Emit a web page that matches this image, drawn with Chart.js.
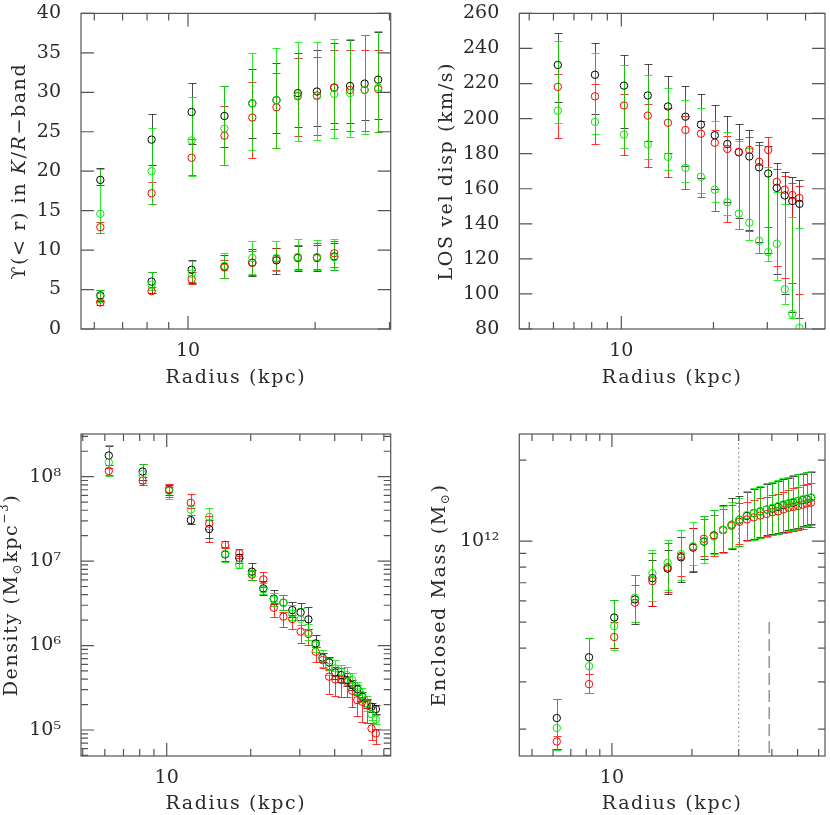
<!DOCTYPE html>
<html>
<head>
<meta charset="utf-8">
<script src="https://cdn.jsdelivr.net/npm/chart.js@4.4.0/dist/chart.umd.min.js"></script>
<style>
  body { margin: 0; background: #fff; width: 830px; height: 815px; overflow: hidden; position: relative; }
  canvas { position: absolute; }
</style>
</head>
<body>
<canvas id="ups" width="415" height="410" style="left:0;top:-10px"></canvas>
<canvas id="sigma" width="415" height="410" style="left:415px;top:-10px"></canvas>
<canvas id="dens" width="415" height="405" style="left:0;top:410px"></canvas>
<canvas id="mass" width="415" height="405" style="left:415px;top:410px"></canvas>
<script>
// radii (kpc)
const radiusUpper = [6.2, 8.2, 10.2, 12.2, 14.2, 16.2, 18.2, 20.2, 22.2, 24.2, 26.2, 28.2];
const radiusLower = [6.2, 8.2, 10.2, 12.2, 14.2, 16.2, 18.2, 20.2, 22.2];
const radiusSigma = [6.2, 8.2, 10.2, 12.2, 14.2, 16.2, 18.2, 20.2, 22.2, 24.2, 26.2, 28.2, 30.2, 32.2, 34.2, 36.2, 38.2];
const radiusProfile = [6.2, 8.2, 10.2, 12.2, 14.2, 16.2, 18.2, 20.2, 22.2, 24.2, 26.2, 28.2, 30.2,
  32.2, 34.2, 36.2, 38.2, 40.2, 42.2, 44.2, 46.2, 48.2, 50.2, 52.2, 54.2, 56.2];

// mass-to-light, upper group
const upsBlack = [18.9, 24.0, 27.5, 27.0, 28.6, 29.0, 29.9, 30.1, 30.6, 30.8, 31.1, 31.6];
const upsBlackHi = [20.4, 27.2, 31.2, 30.8, 33.0, 33.7, 35.0, 35.4, 36.2, 36.6, 37.2, 37.7];
const upsBlackLo = [18.2, 20.8, 23.4, 23.1, 24.2, 24.8, 25.6, 25.7, 26.1, 26.1, 26.5, 26.6];
const upsRed = [12.9, 17.2, 21.7, 24.5, 26.8, 28.1, 29.5, 29.6, 30.6, 30.3, 30.3, 30.4];
const upsRedHi = [13.6, 18.6, 24.1, 28.3, 31.3, 32.5, 34.3, 34.5, 35.3, 35.3, 35.3, 35.3];
const upsRedLo = [12.2, 15.9, 19.5, 20.8, 21.7, 23.0, 24.5, 24.6, 25.3, 25.1, 25.1, 25.0];
const upsGreen = [14.6, 20.0, 23.9, 25.4, 28.6, 29.0, 29.6, 29.5, 29.8, 29.9, 30.3, 30.6];
const upsGreenHi = [20.3, 25.5, 29.4, 30.8, 35.0, 35.6, 36.4, 36.4, 36.7, 36.7, 37.3, 37.8];
const upsGreenLo = [12.2, 15.9, 19.4, 20.8, 22.7, 23.0, 23.8, 23.9, 24.2, 24.3, 24.7, 25.0];
// mass-to-light, lower group
const lowBlack = [4.27, 6.0, 7.5, 7.9, 8.4, 8.7, 9.0, 9.0, 9.2];
const lowBlackHi = [4.9, 7.2, 8.8, 9.4, 10.1, 10.3, 10.5, 10.7, 10.9];
const lowBlackLo = [3.6, 4.5, 5.8, 6.5, 6.7, 7.0, 7.3, 7.4, 7.5];
const lowRed = [3.35, 4.8, 6.3, 7.8, 8.4, 8.9, 9.1, 9.1, 9.6];
const lowRedHi = [3.7, 5.3, 7.2, 8.8, 9.9, 10.3, 10.7, 10.9, 11.1];
const lowRedLo = [3.0, 4.5, 5.7, 6.5, 6.9, 7.5, 7.6, 7.6, 7.9];
const lowGreen = [4.1, 5.6, 7.0, 8.0, 9.0, 9.0, 9.1, 9.1, 9.1];
const lowGreenHi = [5.0, 7.2, 8.6, 9.6, 11.1, 11.2, 11.4, 11.3, 11.4];
const lowGreenLo = [3.4, 4.9, 5.9, 6.5, 7.0, 7.3, 7.5, 7.5, 7.5];

// LOS velocity dispersion (km/s)
const sigBlack = [230.6, 225.0, 218.8, 213.2, 206.9, 201.1, 196.6, 190.5, 185.5, 180.8, 178.4, 172.2, 168.7, 160.5, 156.2, 153.0, 151.4];
const sigBlackHi = [248.6, 243.0, 236.5, 230.9, 224.4, 218.6, 213.8, 207.6, 201.5, 197.0, 193.7, 186.8, 184.5, 174.5, 169.8, 166.6, 164.8];
const sigBlackLo = [209.5, 202.6, 194.6, 187.3, 180.4, 172.8, 166.3, 159.8, 152.3, 143.4, 136.5, 129.4, 123.4, 111.3, 100.1, 89.9, 86.0];
const sigRed = [218.1, 212.7, 207.5, 201.7, 197.6, 193.5, 191.4, 186.2, 182.7, 181.0, 182.1, 175.4, 182.1, 163.9, 159.4, 156.4, 154.7];
const sigRedHi = [225.5, 219.8, 213.8, 208.6, 206.3, 201.7, 198.9, 193.7, 190.0, 188.6, 189.6, 184.9, 189.6, 171.3, 167.2, 163.5, 161.6];
const sigRedLo = [189.0, 185.3, 179.1, 172.2, 166.8, 160.1, 155.1, 147.3, 141.1, 136.8, 135.9, 123.4, 138.3, 115.8, 109.1, 106.3, 100.1];
const sigGreen = [204.5, 198.1, 190.9, 185.3, 178.2, 171.9, 166.8, 159.4, 152.3, 145.8, 140.6, 130.3, 123.8, 128.6, 102.7, 88.6, 80.6];
const sigGreenHi = [244.2, 237.6, 230.6, 225.0, 217.5, 210.8, 206.0, 198.5, 192.4, 187.3, 183.0, 173.7, 172.2, 158.3, 151.2, 143.7, 137.4];
const sigGreenLo = [197.4, 191.1, 183.4, 176.9, 170.9, 163.9, 157.7, 152.7, 144.9, 136.8, 130.5, 123.4, 118.8, 108.0, 94.2, 86.5, 70.0];

// density (Msun kpc^-3)
const densBlack = [1.78e8, 1.15e8, 6.9e7, 3.05e7, 2.4e7, 1.2e7, 1.09e7, 7.5e6, 4.75e6, 3.59e6, 3.22e6, 2.63e6, 2.47e6,
  2.04e6, 1.06e6, 7.2e5, 6.3e5, 4.8e5, 4.47e5, 3.9e5, 3.4e5, 3.03e5, 2.48e5, 2.07e5, 1.88e5, 1.77e5];
const densBlackHi = [2.32e8, 1.41e8, 7.9e7, 3.55e7, 3.05e7, 1.45e7, 1.22e7, 9.5e6, 5.75e6, 4.54e6, 4.0e6, 3.31e6, 3.16e6,
  2.83e6, 1.33e6, 8.1e5, 7.4e5, 5.6e5, 5.36e5, 4.7e5, 3.9e5, 3.4e5, 2.84e5, 2.34e5, 2.1e5, 1.97e5];
const densBlackLo = [1.38e8, 9.1e7, 6.0e7, 2.73e7, 1.9e7, 1.0e7, 9.5e6, 6.0e6, 4.0e6, 3.08e6, 2.63e6, 2.2e6, 2.0e6,
  1.58e6, 9.5e5, 6.3e5, 5.25e5, 4.07e5, 3.72e5, 3.31e5, 2.97e5, 2.69e5, 2.19e5, 1.82e5, 1.64e5, 1.54e5];
const densRed = [1.17e8, 8.96e7, 7.08e7, 4.9e7, 2.78e7, 1.56e7, 1.24e7, 6.9e6, 6.08e6, 2.8e6, 2.2e6, 2.06e6, 1.46e6,
  1.37e6, 8.45e5, 6.73e5, 4.28e5, 3.97e5, 3.9e5, 3.72e5, 2.92e5, 2.26e5, 2.16e5, 1.97e5, 1.04e5, 9.1e4];
const densRedHi = [1.28e8, 1.0e8, 8.1e7, 6.2e7, 3.4e7, 1.71e7, 1.4e7, 7.9e6, 7.5e6, 3.21e6, 2.51e6, 2.29e6, 1.75e6,
  1.58e6, 9.7e5, 8.2e5, 5.1e5, 4.47e5, 4.47e5, 4.27e5, 3.39e5, 2.59e5, 2.48e5, 2.26e5, 1.2e5, 1.04e5];
const densRedLo = [1.05e8, 7.9e7, 5.75e7, 4.2e7, 1.68e7, 1.44e7, 1.09e7, 6.0e6, 4.9e6, 2.16e6, 1.67e6, 1.58e6, 1.06e6,
  1.01e6, 6.4e5, 5.36e5, 2.64e5, 2.52e5, 2.48e5, 2.43e5, 1.88e5, 1.46e5, 1.25e5, 1.2e5, 7.6e4, 6.9e4];
const densGreen = [1.48e8, 1.07e8, 6.8e7, 4.07e7, 3.34e7, 1.22e7, 9.0e6, 7.1e6, 4.62e6, 3.52e6, 3.21e6, 2.4e6, 2.06e6,
  1.42e6, 1.01e6, 7.05e5, 5.6e5, 5.36e5, 4.9e5, 4.47e5, 3.9e5, 3.19e5, 2.59e5, 2.07e5, 1.54e5, 1.33e5];
const densGreenHi = [2.38e8, 1.4e8, 7.6e7, 4.57e7, 4.2e7, 1.47e7, 9.9e6, 7.9e6, 5.46e6, 4.17e6, 3.93e6, 3.02e6, 2.75e6,
  1.78e6, 1.16e6, 8.85e5, 7.05e5, 6.73e5, 5.87e5, 5.6e5, 4.76e5, 3.72e5, 3.1e5, 2.51e5, 1.88e5, 1.5e5];
const densGreenLo = [1.02e8, 8.5e7, 5.5e7, 3.5e7, 2.43e7, 9.7e6, 8.26e6, 5.9e6, 4.04e6, 2.95e6, 2.63e6, 2.0e6, 1.75e6,
  1.17e6, 8.45e5, 5.6e5, 4.47e5, 4.37e5, 4.07e5, 3.72e5, 3.16e5, 2.69e5, 2.14e5, 1.7e5, 1.31e5, 1.17e5];

// enclosed mass (Msun)
const massBlack = [2.2e11, 3.7e11, 5.2e11, 6.07e11, 7.28e11, 7.9e11, 8.7e11, 9.46e11, 9.95e11, 1.05e12, 1.1e12, 1.15e12, 1.2e12,
  1.24e12, 1.27e12, 1.29e12, 1.31e12, 1.32e12, 1.34e12, 1.36e12, 1.38e12, 1.39e12, 1.41e12, 1.42e12, 1.43e12, 1.45e12];
const massBlackHi = [2.6e11, 4.38e11, 6.04e11, 7.48e11, 8.5e11, 9.3e11, 1.04e12, 1.12e12, 1.24e12, 1.3e12, 1.36e12, 1.44e12, 1.47e12,
  1.52e12, 1.56e12, 1.59e12, 1.63e12, 1.65e12, 1.67e12, 1.7e12, 1.72e12, 1.75e12, 1.77e12, 1.78e12, 1.8e12, 1.81e12];
const massBlackLo = [1.69e11, 2.72e11, 4.02e11, 4.92e11, 5.75e11, 6.38e11, 7.06e11, 7.67e11, 8.55e11, 9.0e11, 9.1e11, 9.33e11, 9.6e11,
  1.01e12, 1.02e12, 1.04e12, 1.05e12, 1.06e12, 1.07e12, 1.08e12, 1.1e12, 1.11e12, 1.12e12, 1.14e12, 1.15e12, 1.16e12];
const massRed = [1.8e11, 2.94e11, 4.4e11, 5.9e11, 7.1e11, 8.0e11, 8.8e11, 9.5e11, 1.02e12, 1.05e12, 1.1e12, 1.14e12, 1.18e12,
  1.205e12, 1.225e12, 1.245e12, 1.26e12, 1.28e12, 1.29e12, 1.31e12, 1.33e12, 1.34e12, 1.35e12, 1.365e12, 1.38e12, 1.39e12];
const massRedHi = [1.88e11, 3.2e11, 5.0e11, 6.87e11, 9.0e11, 9.8e11, 1.04e12, 1.12e12, 1.21e12, 1.25e12, 1.32e12, 1.36e12, 1.38e12,
  1.4e12, 1.42e12, 1.44e12, 1.46e12, 1.48e12, 1.5e12, 1.52e12, 1.55e12, 1.57e12, 1.59e12, 1.61e12, 1.63e12, 1.64e12];
const massRedLo = [1.69e11, 2.73e11, 3.99e11, 5.0e11, 5.75e11, 6.46e11, 7.41e11, 7.76e11, 8.79e11, 8.79e11, 9.12e11, 9.44e11, 9.77e11,
  1.01e12, 1.02e12, 1.03e12, 1.045e12, 1.05e12, 1.06e12, 1.07e12, 1.08e12, 1.09e12, 1.1e12, 1.11e12, 1.125e12, 1.13e12];
const massGreen = [2.02e11, 3.43e11, 4.83e11, 6.16e11, 7.6e11, 8.3e11, 8.95e11, 9.57e11, 1.0e12, 1.04e12, 1.1e12, 1.15e12, 1.2e12,
  1.25e12, 1.27e12, 1.29e12, 1.31e12, 1.33e12, 1.35e12, 1.37e12, 1.38e12, 1.4e12, 1.41e12, 1.43e12, 1.44e12, 1.45e12];
const massGreenHi = [2.6e11, 4.38e11, 6.04e11, 7.48e11, 9.3e11, 1.01e12, 1.1e12, 1.18e12, 1.24e12, 1.3e12, 1.35e12, 1.4e12, 1.45e12,
  1.53e12, 1.57e12, 1.6e12, 1.64e12, 1.66e12, 1.68e12, 1.71e12, 1.73e12, 1.76e12, 1.78e12, 1.79e12, 1.81e12, 1.82e12];
const massGreenLo = [1.68e11, 2.72e11, 3.94e11, 5.0e11, 6.0e11, 6.58e11, 7.16e11, 8.15e11, 8.3e11, 8.95e11, 9.0e11, 9.4e11, 9.6e11,
  1.0e12, 1.01e12, 1.03e12, 1.04e12, 1.05e12, 1.06e12, 1.07e12, 1.09e12, 1.1e12, 1.11e12, 1.13e12, 1.14e12, 1.15e12];
const massDotted = 30;       // kpc, dotted vertical line
const massDashed = 39.1;     // kpc, dashed vertical line
const massDashedTop = 5.0e11;

// tick values
const xTicksUps = [6, 7, 8, 9, 10, 20, 30];
const xTicksSigma = [5, 6, 7, 8, 9, 10, 20, 30, 40];
const xTicksProfile = [5, 6, 7, 8, 9, 10, 20, 30, 40, 50, 60];
const yTicksUps = [0, 5, 10, 15, 20, 25, 30, 35, 40];
const yTicksSigma = [80, 100, 120, 140, 160, 180, 200, 220, 240, 260];
const densDecades = [1e4, 1e5, 1e6, 1e7, 1e8];
const massDecades = [1e11, 1e12];

const TEXT = '#2a2a2a';
const AXIS = '#555';
const FONT = '"DejaVu Serif", serif';
const SIZE = 19;
const SPACING = '1.6px';
Chart.defaults.font.family = FONT;
Chart.defaults.font.size = SIZE;
Chart.defaults.color = TEXT;

const COLORS = {
  black: ['#000', 'rgba(0,0,0,0.7)'],
  red: ['#ff0000', 'rgba(255,0,0,0.8)'],
  green: ['#00ee00', 'rgba(0,230,0,0.8)']
};

const SUP = {'0': '⁰', '1': '¹', '2': '²', '3': '³', '4': '⁴', '5': '⁵', '6': '⁶', '7': '⁷', '8': '⁸', '9': '⁹'};
function power(v) {
  const e = Math.round(Math.log10(v));
  if (Math.abs(Math.log10(v) - e) > 1e-6) return '';
  return '10' + String(e).split('').map(c => SUP[c]).join('');
}

function logTicks(decades, min, max) {
  const out = [];
  decades.forEach(d => {
    [1, 2, 3, 4, 5, 6, 7, 8, 9].forEach(m => {
      const v = d * m;
      if (v >= min && v <= max) out.push({value: v, big: m === 1});
    });
  });
  return out;
}

// vertical error bars, drawn from each dataset's lo/hi arrays
const errorBars = {
  id: 'errorBars',
  beforeDatasetsDraw(chart) {
    const {ctx, chartArea: a, scales: {x, y}} = chart;
    ctx.save();
    ctx.beginPath();
    ctx.rect(a.left, a.top, a.right - a.left, a.bottom - a.top);
    ctx.clip();
    ctx.lineWidth = 1;
    const sets = chart.data.datasets.slice().reverse();
    sets.forEach(ds => {
      ctx.strokeStyle = ds.barColor;
      ctx.beginPath();
      ds.data.forEach((p, i) => {
        const px = Math.round(x.getPixelForValue(p.x)) + 0.5;
        const top = Math.round(y.getPixelForValue(ds.hi[i])) + 0.5;
        const bot = Math.round(y.getPixelForValue(ds.lo[i])) + 0.5;
        ctx.moveTo(px, top); ctx.lineTo(px, bot);
        ctx.moveTo(px - 4, top); ctx.lineTo(px + 4, top);
        ctx.moveTo(px - 4, bot); ctx.lineTo(px + 4, bot);
      });
      ctx.stroke();
    });
    ctx.restore();
  }
};

// box with inward ticks on all four sides
const frame = {
  id: 'frame',
  afterDatasetsDraw(chart) {
    const {ctx, chartArea: a, scales: {x, y}} = chart;
    ctx.save();
    ctx.strokeStyle = AXIS;
    ctx.lineWidth = 1.2;
    ctx.strokeRect(a.left, a.top, a.right - a.left, a.bottom - a.top);
    ctx.beginPath();
    x.ticks.forEach(t => {
      const px = x.getPixelForValue(t.value);
      const len = t.big ? 13 : 7;
      ctx.moveTo(px, a.bottom); ctx.lineTo(px, a.bottom - len);
      ctx.moveTo(px, a.top); ctx.lineTo(px, a.top + len);
    });
    y.ticks.forEach(t => {
      const py = y.getPixelForValue(t.value);
      const len = t.big ? 13 : 7;
      ctx.moveTo(a.left, py); ctx.lineTo(a.left + len, py);
      ctx.moveTo(a.right, py); ctx.lineTo(a.right - len, py);
    });
    ctx.stroke();
    ctx.restore();
  }
};

// axis titles: x title under the box, rotated y title with italic / sub / sup pieces
function titles(parts, cx, xTitleY) {
  return {
    id: 'titles',
    afterDraw(chart) {
      const {ctx, chartArea: a} = chart;
      const fontOf = p => (p.it ? 'italic ' : '') + (p.sh ? Math.round(SIZE * 0.65) : SIZE) + 'px ' + FONT;
      ctx.save();
      ctx.letterSpacing = SPACING;
      ctx.fillStyle = TEXT;
      ctx.textBaseline = 'middle';
      ctx.textAlign = 'center';
      ctx.font = SIZE + 'px ' + FONT;
      ctx.fillText('Radius (kpc)', (a.left + a.right) / 2, xTitleY);

      ctx.textAlign = 'left';
      let w = 0;
      parts.forEach(p => { ctx.font = fontOf(p); w += ctx.measureText(p.t).width; });
      ctx.translate(cx, (a.top + a.bottom) / 2);
      ctx.rotate(-Math.PI / 2);
      let pos = -w / 2;
      parts.forEach(p => {
        ctx.font = fontOf(p);
        const dy = p.sh === 'sub' ? SIZE * 0.3 : p.sh === 'sup' ? -SIZE * 0.35 : 0;
        ctx.fillText(p.t, pos, dy);
        pos += ctx.measureText(p.t).width;
      });
      ctx.restore();
    }
  };
}

// dotted and dashed guide lines in the mass panel
const guides = {
  id: 'guides',
  beforeDatasetsDraw(chart) {
    const {ctx, chartArea: a, scales: {x, y}} = chart;
    ctx.save();
    ctx.strokeStyle = '#888';
    ctx.lineWidth = 1.2;
    let px = x.getPixelForValue(massDotted);
    ctx.setLineDash([1.5, 3]);
    ctx.beginPath(); ctx.moveTo(px, a.top); ctx.lineTo(px, a.bottom); ctx.stroke();
    px = x.getPixelForValue(massDashed);
    ctx.strokeStyle = '#999';
    ctx.lineWidth = 1.6;
    ctx.setLineDash([12, 5]);
    ctx.beginPath(); ctx.moveTo(px, y.getPixelForValue(massDashedTop)); ctx.lineTo(px, a.bottom); ctx.stroke();
    ctx.restore();
  }
};

function series(radius, vals, hi, lo, color) {
  return {
    data: radius.map((r, i) => ({x: r, y: vals[i]})),
    hi: hi, lo: lo,
    barColor: COLORS[color][1],
    borderColor: COLORS[color][0],
    backgroundColor: 'rgba(0,0,0,0)',
    pointStyle: 'circle',
    pointRadius: 3.7,
    pointBorderWidth: 1,
    showLine: false
  };
}

function panel(id, o) {
  return new Chart(document.getElementById(id), {
    type: 'scatter',
    data: {datasets: o.datasets},
    plugins: [errorBars, frame, titles(o.title, o.titleX, o.xTitleY)].concat(o.extra || []),
    options: {
      responsive: false,
      animation: false,
      events: [],
      layout: {padding: o.pad},
      plugins: {legend: {display: false}, tooltip: {enabled: false}},
      scales: {
        x: {
          type: 'logarithmic', min: o.xMin, max: o.xMax, bounds: 'data',
          grid: {display: false}, border: {display: false},
          ticks: {autoSkip: false, maxRotation: 0, padding: 3, color: TEXT,
            callback: v => (v === 10 ? '10' : '')},
          afterBuildTicks: s => { s.ticks = o.xTicks.map(v => ({value: v, big: v === 10})); },
          afterFit: s => { s.height = o.xHeight; }
        },
        y: {
          type: o.yLog ? 'logarithmic' : 'linear', min: o.yMin, max: o.yMax, bounds: 'data',
          grid: {display: false}, border: {display: false},
          ticks: {autoSkip: false, padding: 12, color: TEXT,
            callback: v => (o.yLog ? power(v) : String(v))},
          afterBuildTicks: s => { s.ticks = o.yTicks; },
          afterFit: s => { s.width = o.yWidth; }
        }
      }
    }
  });
}

panel('ups', {
  datasets: [
    series(radiusUpper, upsGreen, upsGreenHi, upsGreenLo, 'green'),
    series(radiusUpper, upsRed, upsRedHi, upsRedLo, 'red'),
    series(radiusUpper, upsBlack, upsBlackHi, upsBlackLo, 'black'),
    series(radiusLower, lowGreen, lowGreenHi, lowGreenLo, 'green'),
    series(radiusLower, lowRed, lowRedHi, lowRedLo, 'red'),
    series(radiusLower, lowBlack, lowBlackHi, lowBlackLo, 'black')
  ],
  xMin: 5.58, xMax: 30.2, xTicks: xTicksUps,
  yMin: 0, yMax: 40, yTicks: yTicksUps.map(v => ({value: v, big: true})),
  pad: {left: 0, top: 17, right: 24.3, bottom: 0}, yWidth: 81, xHeight: 71, xTitleY: 388,
  title: [{t: 'ϒ(< r) in '}, {t: 'K', it: true}, {t: '/'}, {t: 'R', it: true}, {t: '−band'}], titleX: 20
});

panel('sigma', {
  datasets: [
    series(radiusSigma, sigGreen, sigGreenHi, sigGreenLo, 'green'),
    series(radiusSigma, sigRed, sigRedHi, sigRedLo, 'red'),
    series(radiusSigma, sigBlack, sigBlackHi, sigBlackLo, 'black')
  ],
  xMin: 4.64, xMax: 46.3, xTicks: xTicksSigma,
  yMin: 80, yMax: 260, yTicks: yTicksSigma.map(v => ({value: v, big: true})),
  pad: {left: 0, top: 17, right: 1, bottom: 0}, yWidth: 104.3, xHeight: 71, xTitleY: 388,
  title: [{t: 'LOS vel disp (km/s)'}], titleX: 32
});

panel('dens', {
  datasets: [
    series(radiusProfile, densGreen, densGreenHi, densGreenLo, 'green'),
    series(radiusProfile, densRed, densRedHi, densRedLo, 'red'),
    series(radiusProfile, densBlack, densBlackHi, densBlackLo, 'black')
  ],
  xMin: 4.93, xMax: 63.5, xTicks: xTicksProfile,
  yLog: true, yMin: 4.92e4, yMax: 3.2e8, yTicks: logTicks(densDecades, 4.92e4, 3.2e8),
  pad: {left: 0, top: 24, right: 24.3, bottom: 0}, yWidth: 81, xHeight: 59, xTitleY: 394,
  title: [{t: 'Density (M'}, {t: '⊙', sh: 'sub'}, {t: 'kpc'}, {t: '−3', sh: 'sup'}, {t: ')'}], titleX: 12
});

panel('mass', {
  datasets: [
    series(radiusProfile, massGreen, massGreenHi, massGreenLo, 'green'),
    series(radiusProfile, massRed, massRedHi, massRedLo, 'red'),
    series(radiusProfile, massBlack, massBlackHi, massBlackLo, 'black')
  ],
  xMin: 4.48, xMax: 63.4, xTicks: xTicksProfile,
  yLog: true, yMin: 1.59e11, yMax: 2.5e12, yTicks: logTicks(massDecades, 1.59e11, 2.5e12),
  pad: {left: 0, top: 24, right: 1, bottom: 0}, yWidth: 104.3, xHeight: 59, xTitleY: 394,
  title: [{t: 'Enclosed Mass (M'}, {t: '⊙', sh: 'sub'}, {t: ')'}], titleX: 25.5,
  extra: [guides]
});
</script>
</body>
</html>
